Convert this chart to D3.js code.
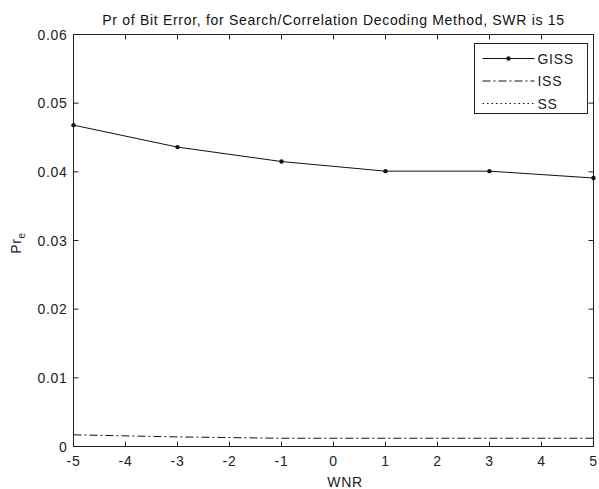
<!DOCTYPE html>
<meta charset="utf-8">
<head>
  <style>
    body { margin: 0; background: #fff; }
    text { font-family: "Liberation Sans", Arial, sans-serif; fill: #111; letter-spacing: 0.7px; }
    .tick-label { font-size: 14px; fill: #222; }
    .title { font-size: 14px; }
  </style>
</head>
<script src="https://d3js.org/d3.v7.min.js"></script>
<div id="chart"></div>
<script>
// data
const wnr = [-5, -3, -1, 1, 3, 5];
const giss = [0.0468, 0.0436, 0.0415, 0.0401, 0.0401, 0.0391];
const iss = [0.0017, 0.0014, 0.0012, 0.0012, 0.0012, 0.0012];
const ss = [0, 0, 0, 0, 0, 0];
const xTicks = [-5, -4, -3, -2, -1, 0, 1, 2, 3, 4, 5];
const yTicks = [0, 0.01, 0.02, 0.03, 0.04, 0.05, 0.06];
const seriesNames = ["GISS", "ISS", "SS"];

const W = 599, H = 489;
const plot = {left: 73.5, right: 593.5, top: 34.5, bottom: 446.5};

const svg = d3.select("#chart").append("svg")
  .attr("width", W).attr("height", H);

const x = d3.scaleLinear().domain([-5, 5]).range([plot.left, plot.right]);
const y = d3.scaleLinear().domain([0, 0.06]).range([plot.bottom, plot.top]);

// axes box
svg.append("rect")
  .attr("x", plot.left).attr("y", plot.top)
  .attr("width", plot.right - plot.left).attr("height", plot.bottom - plot.top)
  .attr("fill", "none").attr("stroke", "#222").attr("stroke-width", 1);

const tickLen = 5;
// x ticks (bottom and top, pointing inward)
xTicks.forEach(t => {
  svg.append("line").attr("x1", x(t)).attr("x2", x(t))
    .attr("y1", plot.bottom).attr("y2", plot.bottom - tickLen).attr("stroke", "#222");
  svg.append("line").attr("x1", x(t)).attr("x2", x(t))
    .attr("y1", plot.top).attr("y2", plot.top + tickLen).attr("stroke", "#222");
  svg.append("text").attr("class", "tick-label")
    .attr("x", x(t)).attr("y", plot.bottom + 19)
    .attr("text-anchor", "middle")
    .text(t);
});
// y ticks (left and right)
const yfmt = d => d === 0 ? "0" : d3.format(".2f")(d);
yTicks.forEach(t => {
  svg.append("line").attr("x1", plot.left).attr("x2", plot.left + tickLen)
    .attr("y1", y(t)).attr("y2", y(t)).attr("stroke", "#222");
  svg.append("line").attr("x1", plot.right).attr("x2", plot.right - tickLen)
    .attr("y1", y(t)).attr("y2", y(t)).attr("stroke", "#222");
  svg.append("text").attr("class", "tick-label")
    .attr("x", plot.left - 6).attr("y", y(t) + 5)
    .attr("text-anchor", "end")
    .text(yfmt(t));
});

const line = d3.line().x(d => x(d[0])).y(d => y(d[1]));

const styles = {
  GISS: {dash: null, values: giss, marker: true},
  ISS: {dash: "8,3,2,3", values: iss, marker: false},
  SS: {dash: "1.5,3", values: ss, marker: false}
};

seriesNames.forEach(name => {
  const s = styles[name];
  const pts = wnr.map((w, i) => [w, s.values[i]]);
  svg.append("path").datum(pts)
    .attr("d", line)
    .attr("fill", "none").attr("stroke", "#111").attr("stroke-width", 1)
    .attr("stroke-dasharray", s.dash);
  if (s.marker) {
    svg.selectAll(null).data(pts).enter().append("circle")
      .attr("cx", d => x(d[0])).attr("cy", d => y(d[1]))
      .attr("r", 2.2).attr("fill", "#111");
  }
});

// title and labels
svg.append("text").attr("class", "title")
  .attr("x", (plot.left + plot.right) / 2).attr("y", 25)
  .attr("text-anchor", "middle")
  .text("Pr of Bit Error, for Search/Correlation Decoding Method, SWR is 15");

svg.append("text").attr("class", "tick-label")
  .attr("x", 345).attr("y", 487)
  .attr("text-anchor", "middle")
  .text("WNR");

const yl = svg.append("text").attr("class", "tick-label")
  .attr("transform", "translate(21, 243) rotate(-90)")
  .attr("text-anchor", "middle");
yl.append("tspan").text("Pr");
yl.append("tspan").attr("dy", 4).attr("font-size", "10px").text("e");

// legend
const lg = svg.append("g").attr("transform", "translate(474.5, 43.5)");
lg.append("rect").attr("width", 113).attr("height", 70)
  .attr("fill", "#fff").attr("stroke", "#222");
seriesNames.forEach((name, i) => {
  const s = styles[name];
  const yy = 15 + i * 22.5;
  lg.append("line").attr("x1", 8).attr("x2", 60).attr("y1", yy).attr("y2", yy)
    .attr("stroke", "#111").attr("stroke-dasharray", s.dash);
  if (s.marker) lg.append("circle").attr("cx", 34).attr("cy", yy).attr("r", 2.2).attr("fill", "#111");
  lg.append("text").attr("class", "tick-label")
    .attr("x", 63).attr("y", yy + 5).text(name);
});
</script>
